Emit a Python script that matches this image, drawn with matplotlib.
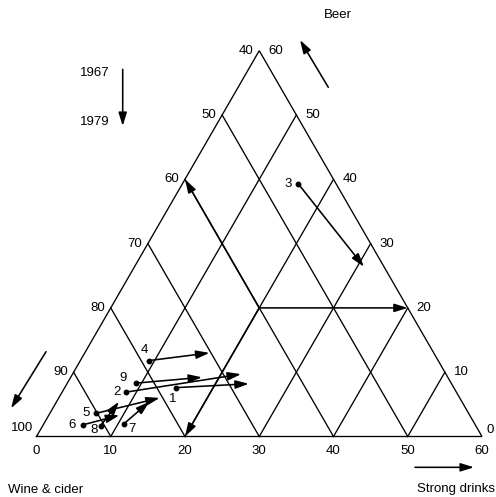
import numpy as np
import matplotlib.pyplot as plt

plt.rcParams['font.family'] = ['Liberation Sans', 'DejaVu Sans']

# Axis ticks: strong drinks along the bottom, beer on the right, wine & cider on the left
strong_ticks = [0, 10, 20, 30, 40, 50, 60]
beer_ticks = [0, 10, 20, 30, 40, 50, 60]
wine_ticks = [40, 50, 60, 70, 80, 90, 100]

# Consumption shares (%) per country, 1967 -> 1979
countries = ['1', '2', '3', '4', '5', '6', '7', '8', '9']
strong_1967 = [15.0, 8.6, 15.6, 9.2, 6.2, 5.3, 10.8, 7.8, 9.2]
beer_1967 = [7.6, 6.9, 39.3, 11.8, 3.6, 1.8, 2.0, 1.7, 8.3]
strong_1979 = [24.5, 22.7, 30.9, 16.8, 13.6, 9.5, 12.5, 8.4, 17.7]
beer_1979 = [8.2, 9.7, 26.4, 13.0, 6.0, 3.3, 5.4, 5.4, 9.2]

# label offsets (pixels) for the country numbers
label_dx = [-3, -9, -10, -4, -10, -10, 8, -7, -13]
label_dy = [-11, 0, 0, 11, 0, 0, -5, -4, 5]

# example point used to show how the three scales are read
ex_strong, ex_beer = 20, 20

SQ = np.sqrt(3) / 2


def tern(s, b):
    s = np.asarray(s, dtype=float)
    b = np.asarray(b, dtype=float)
    return s + b / 2, b * SQ


fig = plt.figure(figsize=(4.96, 4.97), dpi=100)
ax = fig.add_axes([0, 0, 1, 1])
ax.set_xlim(-4.916, 61.886)
ax.set_ylim(-8.148, 58.788)
ax.axis('off')

lw = 0.95
# outer triangle
tx, ty = tern([0, 60, 0, 0], [0, 0, 60, 0])
ax.plot(tx, ty, color='black', lw=lw, solid_joinstyle='miter')

# grid: constant wine (\) and constant strong (/) every 10 %
for k in range(10, 60, 10):
    gx, gy = tern([0, k], [k, 0])
    ax.plot(gx, gy, color='black', lw=lw)
    gx, gy = tern([k, k], [0, 60 - k])
    ax.plot(gx, gy, color='black', lw=lw)

head = dict(arrowstyle='-|>,head_length=0.8,head_width=0.25',
            mutation_scale=10, color='black', lw=1.15,
            shrinkA=0, shrinkB=0)


def arrow(x0, y0, x1, y1):
    ax.annotate('', xy=(x1, y1), xytext=(x0, y0), arrowprops=head)


# reading arrows from the example point to each scale
px, py = tern(ex_strong, ex_beer)
for s, b in [(0, ex_strong + ex_beer), (60 - ex_beer, ex_beer), (ex_strong, 0)]:
    qx, qy = tern(s, b)
    arrow(px, py, qx, qy)

# tick labels
fs = 9.5
for v in strong_ticks:
    x, y = tern(v, 0)
    ax.annotate(str(v), (x, y), xytext=(0, -14), textcoords='offset pixels',
                ha='center', va='center', fontsize=fs)
for v in wine_ticks:
    x, y = tern(0, 100 - v)
    off = (-3, 9) if v == 100 else (-6, 0)
    ax.annotate(str(v), (x, y), xytext=off, textcoords='offset pixels',
                ha='right', va='center', fontsize=fs)
for v in beer_ticks:
    x, y = tern(60 - v, v)
    off = (5, 7) if v == 0 else (9, 0)
    ax.annotate(str(v), (x, y), xytext=off, textcoords='offset pixels',
                ha='left', va='center', fontsize=fs)

# country arrows 1967 -> 1979
x0, y0 = tern(strong_1967, beer_1967)
x1, y1 = tern(strong_1979, beer_1979)
for i, name in enumerate(countries):
    arrow(x0[i], y0[i], x1[i], y1[i])
    ax.plot(x0[i], y0[i], 'o', color='black', ms=3.2)
    ax.annotate(name, (x0[i], y0[i]), xytext=(label_dx[i], label_dy[i]),
                textcoords='offset pixels', ha='center', va='center', fontsize=fs)

# direction arrows for each scale and the time arrow
arrow(39.30, 47.03, 35.49, 53.40)
arrow(1.28, 11.42, -3.43, 3.80)
arrow(50.98, -4.15, 58.92, -4.15)
arrow(11.61, 49.45, 11.61, 41.82)

ax.text(9.9, 49.0, '1967', ha='right', va='center', fontsize=fs)
ax.text(9.9, 42.32, '1979', ha='right', va='center', fontsize=fs)
ax.text(40.6, 56.77, 'Beer', ha='center', va='center', fontsize=fs)
ax.text(-3.84, -7.2, 'Wine & cider', ha='left', va='center', fontsize=fs)
ax.text(51.2, -7.07, 'Strong drinks', ha='left', va='center', fontsize=fs)

fig.savefig('out.png', dpi=100)
